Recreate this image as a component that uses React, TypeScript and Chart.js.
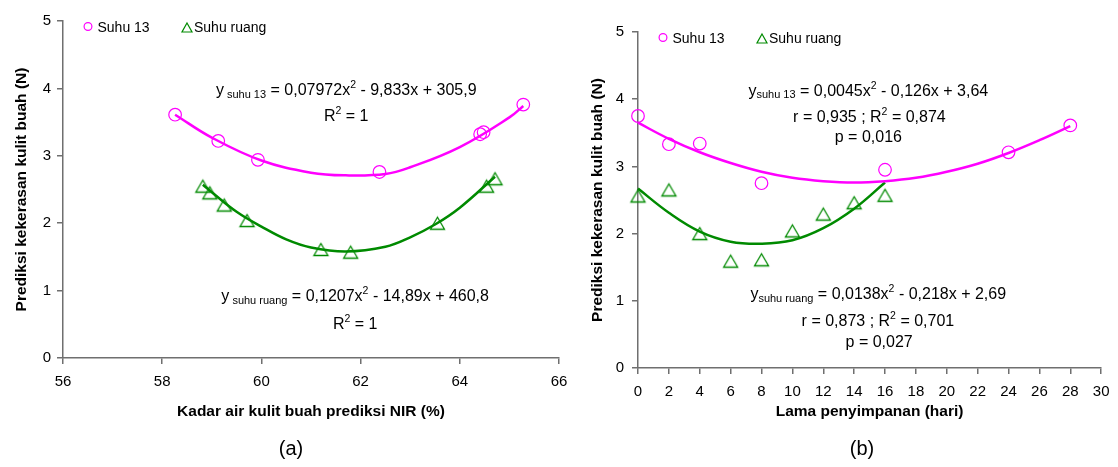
import React, { useEffect, useRef } from "react";
import { Chart, registerables } from "chart.js";

Chart.register(...registerables);

const FONT = "'Liberation Sans', Arial, Helvetica, sans-serif";
const MAGENTA = "#ff00ff";
const GREEN = "#008a00";
const AXIS_COLOR = "#6f6f6f";

// ---------- shared text ----------
const legendLabels = ["Suhu 13", "Suhu ruang"];
const yTitleText = "Prediksi kekerasan kulit buah (N)";

// ---------- Panel (a) ----------
const aXTickValues = [56, 58, 60, 62, 64, 66];
const aYTickValues = [0, 1, 2, 3, 4, 5];
const aXTitleText = "Kadar air kulit buah prediksi NIR (%)";
const aSuhu13X = [58.26, 59.13, 59.93, 62.38, 64.41, 64.48, 65.28];
const aSuhu13Y = [3.61, 3.22, 2.94, 2.76, 3.32, 3.35, 3.76];
const aRuangX = [58.82, 58.96, 59.25, 59.71, 61.2, 61.8, 63.55, 64.54, 64.71];
const aRuangY = [2.55, 2.45, 2.27, 2.04, 1.61, 1.57, 2.0, 2.55, 2.66];
const aTrend13X = [58.26, 59, 60, 61, 61.7, 62.5, 63, 64, 65, 65.28];
const aTrend13Y = [3.61, 3.27, 2.93, 2.75, 2.71, 2.73, 2.83, 3.13, 3.57, 3.74];
const aTrendRuangX = [58.82, 59, 59.5, 60, 60.5, 61, 61.7, 62.5, 63, 63.5, 64, 64.71];
const aTrendRuangY = [2.57, 2.46, 2.17, 1.95, 1.76, 1.64, 1.58, 1.65, 1.79, 1.98, 2.23, 2.69];

// ---------- Panel (b) ----------
const bXTickValues = [0, 2, 4, 6, 8, 10, 12, 14, 16, 18, 20, 22, 24, 26, 28, 30];
const bYTickValues = [0, 1, 2, 3, 4, 5];
const bXTitleText = "Lama penyimpanan (hari)";
const bSuhu13X = [0, 2, 4, 8, 16, 24, 28];
const bSuhu13Y = [3.75, 3.33, 3.34, 2.75, 2.95, 3.21, 3.61];
const bRuangX = [0, 2, 4, 6, 8, 10, 12, 14, 16];
const bRuangY = [2.56, 2.65, 2.0, 1.59, 1.61, 2.04, 2.29, 2.46, 2.57];
const bTrend13X = [0, 2, 4, 6, 8, 10, 12, 14, 16, 18, 20, 22, 24, 26, 28];
const bTrend13Y = [3.65, 3.41, 3.21, 3.05, 2.92, 2.83, 2.78, 2.76, 2.78, 2.83, 2.92, 3.04, 3.2, 3.39, 3.6];
const bTrendRuangX = [0, 2, 4, 6, 8, 10, 12, 14, 16];
const bTrendRuangY = [2.67, 2.31, 2.03, 1.88, 1.85, 1.9, 2.08, 2.37, 2.76];

// ---------- annotations ----------
type Run = { t: string; size: number; dy: number };
type Note = { x: number; y: number; runs: Run[] };
const M = (t: string): Run => ({ t, size: 16, dy: 0 });
const SUB = (t: string): Run => ({ t, size: 11, dy: 2.5 });
const SUP = (t: string): Run => ({ t, size: 10.5, dy: -7 });

const aNotes: Note[] = [
  { x: 61.71, y: 3.9, runs: [M("y"), SUB(" suhu 13"), M(" = 0,07972x"), SUP("2"), M(" - 9,833x + 305,9")] },
  { x: 61.71, y: 3.52, runs: [M("R"), SUP("2"), M(" = 1")] },
  { x: 61.89, y: 0.84, runs: [M("y"), SUB(" suhu ruang"), M(" = 0,1207x"), SUP("2"), M(" - 14,89x + 460,8")] },
  { x: 61.89, y: 0.43, runs: [M("R"), SUP("2"), M(" = 1")] },
];
const bNotes: Note[] = [
  { x: 14.92, y: 4.05, runs: [M("y"), SUB("suhu 13"), M(" = 0,0045x"), SUP("2"), M(" - 0,126x + 3,64")] },
  { x: 14.99, y: 3.66, runs: [M("r = 0,935 ; R"), SUP("2"), M(" = 0,874")] },
  { x: 14.92, y: 3.37, runs: [M("p = 0,016")] },
  { x: 15.56, y: 1.025, runs: [M("y"), SUB("suhu ruang"), M(" = 0,0138x"), SUP("2"), M(" - 0,218x + 2,69")] },
  { x: 15.54, y: 0.62, runs: [M("r = 0,873 ; R"), SUP("2"), M(" = 0,701")] },
  { x: 15.62, y: 0.31, runs: [M("p = 0,027")] },
];

interface PanelSpec {
  left: number;
  w: number;
  h: number;
  padTop: number;
  padRight: number;
  yAxisWidth: number;
  xAxisHeight: number;
  yTickPad: number;
  xTickPad: number;
  yTitlePad: number;
  xTitlePadBottom: number;
  xTicks: number[];
  yTicks: number[];
  xTitle: string;
  s13X: number[];
  s13Y: number[];
  ruX: number[];
  ruY: number[];
  t13X: number[];
  t13Y: number[];
  truX: number[];
  truY: number[];
  notes: Note[];
  caption: string;
  captionX: number;
  captionY: number;
}

const panelA: PanelSpec = {
  left: 0, w: 580, h: 467,
  padTop: 21, padRight: 21, yAxisWidth: 63, xAxisHeight: 109,
  yTickPad: 6, xTickPad: 9, yTitlePad: 12, xTitlePadBottom: 46,
  xTicks: aXTickValues, yTicks: aYTickValues, xTitle: aXTitleText,
  s13X: aSuhu13X, s13Y: aSuhu13Y, ruX: aRuangX, ruY: aRuangY,
  t13X: aTrend13X, t13Y: aTrend13Y, truX: aTrendRuangX, truY: aTrendRuangY,
  notes: aNotes, caption: "(a)", captionX: 291, captionY: 455,
};

const panelB: PanelSpec = {
  left: 570, w: 548, h: 467,
  padTop: 32, padRight: 10, yAxisWidth: 68, xAxisHeight: 99,
  yTickPad: 8, xTickPad: 8.5, yTitlePad: 18, xTitlePadBottom: 46,
  xTicks: bXTickValues, yTicks: bYTickValues, xTitle: bXTitleText,
  s13X: bSuhu13X, s13Y: bSuhu13Y, ruX: bRuangX, ruY: bRuangY,
  t13X: bTrend13X, t13Y: bTrend13Y, truX: bTrendRuangX, truY: bTrendRuangY,
  notes: bNotes, caption: "(b)", captionX: 292, captionY: 455,
};

function zip(xs: number[], ys: number[]) {
  return xs.map((x, i) => ({ x, y: ys[i] }));
}

function makeTriangle(color: string, w: number, h: number, lw: number) {
  const c = document.createElement("canvas");
  const W = Math.ceil(w + lw * 2 + 4);
  const H = Math.ceil(h + lw * 2 + 4);
  c.width = W;
  c.height = H;
  const g = c.getContext("2d")!;
  const cx = W / 2;
  const cy = H / 2;
  g.strokeStyle = color;
  g.lineWidth = lw;
  g.beginPath();
  g.moveTo(cx, cy - h / 2);
  g.lineTo(cx + w / 2, cy + h / 2);
  g.lineTo(cx - w / 2, cy + h / 2);
  g.closePath();
  g.stroke();
  return c;
}

function drawRuns(ctx: CanvasRenderingContext2D, runs: Run[], cx: number, baseline: number) {
  let total = 0;
  for (const r of runs) {
    ctx.font = `${r.size}px ${FONT}`;
    total += ctx.measureText(r.t).width;
  }
  let x = cx - total / 2;
  ctx.textAlign = "left";
  ctx.textBaseline = "alphabetic";
  ctx.fillStyle = "#000";
  for (const r of runs) {
    ctx.font = `${r.size}px ${FONT}`;
    ctx.fillText(r.t, x, baseline + r.dy);
    x += ctx.measureText(r.t).width;
  }
}

function buildConfig(spec: PanelSpec): any {
  const tri = makeTriangle(GREEN, 14, 12, 1.3);
  const overlay = {
    id: "overlay",
    afterDatasetsDraw(chart: any) {
      const ctx: CanvasRenderingContext2D = chart.ctx;
      const ca = chart.chartArea;
      const xs = chart.scales.x;
      const ys = chart.scales.y;
      ctx.save();
      // annotations
      for (const n of spec.notes) {
        drawRuns(ctx, n.runs, xs.getPixelForValue(n.x), ys.getPixelForValue(n.y));
      }
      // legend
      const ly = ca.top + 5.5;
      ctx.strokeStyle = MAGENTA;
      ctx.lineWidth = 1.2;
      ctx.beginPath();
      ctx.arc(ca.left + 25, ly, 3.9, 0, Math.PI * 2);
      ctx.stroke();
      const tx = ca.left + 124;
      const ty = ly + 1;
      ctx.strokeStyle = GREEN;
      ctx.beginPath();
      ctx.moveTo(tx, ty - 4.5);
      ctx.lineTo(tx + 5, ty + 4.5);
      ctx.lineTo(tx - 5, ty + 4.5);
      ctx.closePath();
      ctx.stroke();
      ctx.fillStyle = "#000";
      ctx.font = `14px ${FONT}`;
      ctx.textAlign = "left";
      ctx.textBaseline = "alphabetic";
      ctx.fillText(legendLabels[0], ca.left + 34.5, ca.top + 11);
      ctx.fillText(legendLabels[1], ca.left + 131, ca.top + 11);
      // caption
      ctx.font = `20px ${FONT}`;
      ctx.textAlign = "center";
      ctx.fillText(spec.caption, spec.captionX, spec.captionY);
      ctx.restore();
    },
  };

  const axisCommon = {
    type: "linear",
    grid: {
      display: true,
      drawOnChartArea: false,
      drawTicks: true,
      tickLength: 6,
      color: AXIS_COLOR,
      lineWidth: 1.5,
    },
    border: { display: true, color: AXIS_COLOR, width: 1.5 },
  };

  return {
    type: "scatter",
    data: {
      datasets: [
        {
          data: zip(spec.t13X, spec.t13Y),
          showLine: true,
          pointRadius: 0,
          borderColor: MAGENTA,
          borderWidth: 2.5,
          tension: 0.4,
          clip: false,
        },
        {
          data: zip(spec.s13X, spec.s13Y),
          showLine: false,
          pointStyle: "circle",
          pointRadius: 6.3,
          borderColor: MAGENTA,
          backgroundColor: "rgba(0,0,0,0)",
          pointBorderWidth: 1.2,
          clip: false,
        },
        {
          data: zip(spec.truX, spec.truY),
          showLine: true,
          pointRadius: 0,
          borderColor: GREEN,
          borderWidth: 2.5,
          tension: 0.4,
          clip: false,
        },
        {
          data: zip(spec.ruX, spec.ruY),
          showLine: false,
          pointStyle: tri,
          pointRadius: 7,
          borderColor: GREEN,
          backgroundColor: "rgba(0,0,0,0)",
          clip: false,
        },
      ],
    },
    options: {
      responsive: false,
      animation: false,
      devicePixelRatio: 1,
      events: [],
      layout: { padding: { left: 0, top: spec.padTop, right: spec.padRight, bottom: 0 } },
      plugins: {
        legend: { display: false },
        tooltip: { enabled: false },
        title: { display: false },
      },
      scales: {
        x: {
          ...axisCommon,
          position: "bottom",
          min: spec.xTicks[0],
          max: spec.xTicks[spec.xTicks.length - 1],
          afterBuildTicks: (axis: any) => {
            axis.ticks = spec.xTicks.map((v) => ({ value: v }));
          },
          afterFit: (axis: any) => {
            axis.height = spec.xAxisHeight;
          },
          ticks: {
            font: { family: FONT, size: 15 },
            color: "#000",
            padding: spec.xTickPad,
            maxRotation: 0,
            autoSkip: false,
          },
          title: {
            display: true,
            text: spec.xTitle,
            color: "#000",
            font: { family: FONT, size: 15.5, weight: "bold" },
            padding: { top: 0, bottom: spec.xTitlePadBottom },
          },
        },
        y: {
          ...axisCommon,
          position: "left",
          min: spec.yTicks[0],
          max: spec.yTicks[spec.yTicks.length - 1],
          afterBuildTicks: (axis: any) => {
            axis.ticks = spec.yTicks.map((v) => ({ value: v }));
          },
          afterFit: (axis: any) => {
            axis.width = spec.yAxisWidth;
          },
          ticks: {
            font: { family: FONT, size: 15 },
            color: "#000",
            padding: spec.yTickPad,
            autoSkip: false,
          },
          title: {
            display: true,
            text: yTitleText,
            color: "#000",
            font: { family: FONT, size: 15.5, weight: "bold" },
            padding: { top: spec.yTitlePad, bottom: 0 },
          },
        },
      },
    },
    plugins: [overlay],
  };
}

function Panel({ spec }: { spec: PanelSpec }) {
  const ref = useRef<HTMLCanvasElement>(null);
  useEffect(() => {
    if (!ref.current) return;
    const chart = new Chart(ref.current, buildConfig(spec));
    return () => chart.destroy();
  }, [spec]);
  return (
    <canvas
      ref={ref}
      width={spec.w}
      height={spec.h}
      style={{ position: "absolute", left: spec.left, top: 0, width: spec.w, height: spec.h }}
    />
  );
}

export default function App() {
  return (
    <div
      style={{
        position: "fixed",
        left: 0,
        top: 0,
        width: 1118,
        height: 467,
        background: "#ffffff",
        overflow: "hidden",
      }}
    >
      <Panel spec={panelA} />
      <Panel spec={panelB} />
    </div>
  );
}
